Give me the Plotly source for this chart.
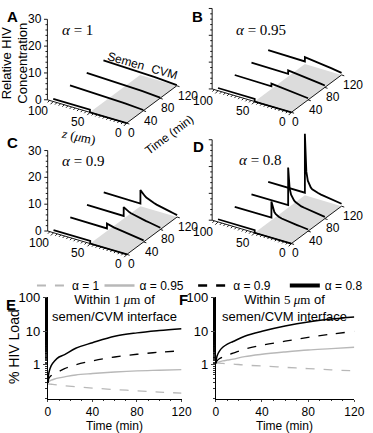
import plotly.graph_objects as go

# ---------------- data ----------------
# Panels A-D: relative HIV concentration profiles along z (um) at four times (min)
z_um = [100, 90, 80, 70, 60, 50, 50, 48, 46, 44, 42, 40, 36, 32, 28, 24, 20, 15, 10, 5, 0]
snap_times = [0, 40, 80, 120]
panel_alpha = ["1", "0.95", "0.9", "0.8"]

conc_alpha_1 = [
    [1.0, 1.0, 1.0, 1.0, 1.0, 1.0, 0, 0, 0, 0, 0, 0, 0, 0, 0, 0, 0, 0, 0, 0, 0],
    [1.4, 1.35, 1.3, 1.2, 1.1, 1.0, 1.0, 0.98, 0.96, 0.94, 0.92, 0.9, 0.85, 0.8, 0.75, 0.7, 0.65, 0.55, 0.45, 0.35, 0.25],
    [1.4, 1.35, 1.3, 1.2, 1.1, 1.0, 1.0, 0.98, 0.96, 0.94, 0.92, 0.9, 0.85, 0.8, 0.75, 0.7, 0.65, 0.55, 0.45, 0.35, 0.25],
    [1.4, 1.35, 1.3, 1.2, 1.1, 1.0, 1.0, 0.98, 0.96, 0.94, 0.92, 0.9, 0.85, 0.8, 0.75, 0.7, 0.65, 0.55, 0.45, 0.35, 0.25],
]
conc_alpha_095 = [
    [1.0, 1.0, 1.0, 1.0, 1.0, 1.0, 0, 0, 0, 0, 0, 0, 0, 0, 0, 0, 0, 0, 0, 0, 0],
    [1.2, 1.15, 1.1, 1.05, 1.0, 1.0, 2.0, 1.95, 1.9, 1.85, 1.8, 1.75, 1.65, 1.55, 1.45, 1.35, 1.25, 1.1, 0.95, 0.8, 0.6],
    [1.2, 1.15, 1.1, 1.05, 1.0, 1.0, 2.3, 2.25, 2.2, 2.15, 2.1, 2.05, 1.95, 1.85, 1.7, 1.6, 1.45, 1.3, 1.1, 0.9, 0.7],
    [1.2, 1.15, 1.1, 1.05, 1.0, 1.0, 2.6, 2.55, 2.5, 2.45, 2.4, 2.3, 2.2, 2.05, 1.9, 1.75, 1.6, 1.4, 1.2, 1.0, 0.75],
]
conc_alpha_09 = [
    [1.0, 1.0, 1.0, 1.0, 1.0, 1.0, 0, 0, 0, 0, 0, 0, 0, 0, 0, 0, 0, 0, 0, 0, 0],
    [1.1, 1.05, 1.0, 1.0, 1.0, 1.0, 2.8, 2.6, 2.45, 2.3, 2.2, 2.1, 1.95, 1.8, 1.65, 1.5, 1.4, 1.2, 1.0, 0.8, 0.6],
    [1.1, 1.05, 1.0, 1.0, 1.0, 1.0, 4.3, 3.9, 3.55, 3.25, 3.0, 2.8, 2.5, 2.25, 2.0, 1.8, 1.6, 1.4, 1.15, 0.9, 0.65],
    [1.1, 1.05, 1.0, 1.0, 1.0, 1.0, 6.0, 5.3, 4.75, 4.3, 3.9, 3.6, 3.1, 2.7, 2.35, 2.05, 1.8, 1.55, 1.3, 1.0, 0.7],
]
conc_alpha_08 = [
    [1.0, 1.0, 1.0, 1.0, 1.0, 1.0, 0, 0, 0, 0, 0, 0, 0, 0, 0, 0, 0, 0, 0, 0, 0],
    [1.0, 1.0, 1.0, 1.0, 1.0, 1.0, 7.0, 4.5, 3.4, 2.8, 2.4, 2.15, 1.8, 1.6, 1.45, 1.3, 1.2, 1.05, 0.9, 0.75, 0.6],
    [1.0, 1.0, 1.0, 1.0, 1.0, 1.0, 15.0, 7.5, 5.2, 4.0, 3.4, 2.95, 2.4, 2.0, 1.8, 1.6, 1.45, 1.25, 1.05, 0.85, 0.65],
    [1.0, 1.0, 1.0, 1.0, 1.0, 1.0, 23.0, 9.0, 5.8, 4.4, 3.6, 3.1, 2.6, 2.3, 2.05, 1.85, 1.7, 1.5, 1.3, 1.1, 0.9],
]
panel_conc = [conc_alpha_1, conc_alpha_095, conc_alpha_09, conc_alpha_08]

cvm_floor_z = [50, 0, 0, 50]
cvm_floor_t = [0, 0, 120, 120]

z_ticks = list(range(0, 106, 5))
z_label_vals = [100, 50, 0]
t_ticks = [0, 40, 80, 120]
c_ticks = list(range(0, 31, 2))
c_label_vals = [0, 10, 20, 30]

# Panels E, F: % HIV load vs time
t_min = [0, 1, 3, 6, 10, 15, 25, 40, 60, 80, 100, 120]
load1_a1 = [0.27, 0.27, 0.265, 0.26, 0.25, 0.24, 0.225, 0.205, 0.185, 0.17, 0.155, 0.145]
load1_a095 = [0.29, 0.32, 0.35, 0.38, 0.41, 0.44, 0.5, 0.55, 0.61, 0.66, 0.69, 0.72]
load1_a09 = [0.29, 0.4, 0.48, 0.56, 0.64, 0.77, 1.0, 1.3, 1.7, 2.05, 2.35, 2.6]
load1_a08 = [0.29, 0.6, 0.95, 1.3, 1.7, 2.0, 3.1, 4.5, 7.0, 8.8, 10.3, 11.7]
load5_a1 = [1.15, 1.14, 1.12, 1.1, 1.07, 1.05, 0.98, 0.92, 0.84, 0.77, 0.71, 0.66]
load5_a095 = [1.1, 1.15, 1.22, 1.3, 1.38, 1.47, 1.75, 2.05, 2.4, 2.75, 3.0, 3.3]
load5_a09 = [1.1, 1.3, 1.5, 1.7, 1.95, 2.2, 2.9, 3.8, 5.0, 6.5, 8.1, 9.7]
load5_a08 = [1.1, 1.8, 2.5, 3.3, 4.1, 4.9, 7.0, 9.8, 14.0, 18.5, 22.5, 26.0]
legend_names = ["α = 1", "α = 0.95", "α = 0.9", "α = 0.8"]

# ---------------- geometry / styling ----------------
W, H = 373, 433
FONT = "Liberation Sans, Arial, sans-serif"
SERIF = "Liberation Serif, DejaVu Serif, serif"

# oblique projection of (z, t, c) onto the overlay pixel axes
Z_AX = 108           # z position of the vertical axis
ZX, ZY = 0.76, 0.22  # px per um (toward z = 0)
TX, TY = 52 / 120, -38 / 120  # px per min
CY = -81.8 / 30      # px per concentration unit
panel_origin = [(46.0, 94.3), (216.7, 83.3), (46.3, 227.7), (216.7, 216.7)]


def proj(o, z, t, c):
    return (o[0] + (Z_AX - z) * ZX + t * TX,
            o[1] + (Z_AX - z) * ZY + t * TY + c * CY)


fig = go.Figure()
OV = dict(xaxis="x3", yaxis="y3", hoverinfo="skip", showlegend=False)
annos = []


def txt(x, y, s, size=13, fam=FONT, angle=0, bold=False, xanc="center", yanc="middle"):
    annos.append(dict(x=x / W, y=1 - y / H, xref="paper", yref="paper",
                      text=("<b>%s</b>" % s) if bold else s, showarrow=False,
                      textangle=angle, xanchor=xanc, yanchor=yanc,
                      font=dict(family=fam, size=size, color="black")))


def segs(pairs):
    xs, ys = [], []
    for (a, b) in pairs:
        xs += [a[0], b[0], None]
        ys += [a[1], b[1], None]
    return xs, ys


for k in range(4):
    o = panel_origin[k]
    # CVM floor (grey)
    fx, fy = zip(*[proj(o, z, t, 0) for z, t in zip(cvm_floor_z, cvm_floor_t)])
    fig.add_trace(go.Scatter(x=list(fx) + [fx[0]], y=list(fy) + [fy[0]], fill="toself",
                             fillcolor="#dcdcdc", mode="lines", line=dict(width=0), **OV))
    # axis lines
    axis_pairs = [(proj(o, Z_AX, 0, 0), proj(o, Z_AX, 0, 30)),
                  (proj(o, Z_AX, 0, 0), proj(o, 0, 0, 0)),
                  (proj(o, 0, 0, 0), proj(o, 0, 120, 0))]
    # ticks
    for c in c_ticks:
        p = proj(o, Z_AX, 0, c)
        ln = 3.5 if c in c_label_vals else 2.0
        axis_pairs.append((p, (p[0] - ln, p[1])))
    for z in z_ticks:
        p = proj(o, z, 0, 0)
        ln = 1.4 if z in z_label_vals else 1.0
        axis_pairs.append((p, (p[0] - 2.0 * ln, p[1] + 2.0 * ln)))
    for t in t_ticks:
        p = proj(o, 0, t, 0)
        axis_pairs.append((p, (p[0] + 2.8, p[1] + 0.9)))
    ax_x, ax_y = segs(axis_pairs)
    fig.add_trace(go.Scatter(x=ax_x, y=ax_y, mode="lines",
                             line=dict(color="black", width=0.9), **OV))
    # concentration profiles
    for j, t in enumerate(snap_times):
        px, py = zip(*[proj(o, z, t, c) for z, c in zip(z_um, panel_conc[k][j])])
        fig.add_trace(go.Scatter(x=list(px), y=list(py), mode="lines",
                                 line=dict(color="black", width=1.8), **OV))
    # tick labels
    if k in (0, 2):
        for c in c_label_vals:
            p = proj(o, Z_AX, 0, c)
            txt(p[0] - 4, p[1], str(c), size=12, xanc="right")
    for z in z_label_vals:
        p = proj(o, z, 0, 0)
        txt(p[0] - 3, p[1] + 10, str(z), size=12, xanc="right")
    for t in t_ticks:
        p = proj(o, 0, t, 0)
        txt(p[0] - 1, p[1] + 10, str(t), size=12, xanc="left")

# ---------------- panels E and F ----------------
styles = [
    dict(color="#b8b8b8", width=1.3, dash="dash"),
    dict(color="#b8b8b8", width=1.4),
    dict(color="black", width=1.3, dash="dash"),
    dict(color="black", width=1.5),
]
legend_styles = [
    dict(color="#b8b8b8", width=2, dash="dash"),
    dict(color="#b8b8b8", width=2.5),
    dict(color="black", width=2.5, dash="dash"),
    dict(color="black", width=4),
]
e_series = [load1_a1, load1_a095, load1_a09, load1_a08]
f_series = [load5_a1, load5_a095, load5_a09, load5_a08]
for i in range(4):
    fig.add_trace(go.Scatter(x=t_min, y=e_series[i], mode="lines", line=styles[i],
                             line_shape="spline", showlegend=False, hoverinfo="skip",
                             xaxis="x", yaxis="y"))
    fig.add_trace(go.Scatter(x=t_min, y=f_series[i], mode="lines", line=styles[i],
                             line_shape="spline", showlegend=False, hoverinfo="skip",
                             xaxis="x2", yaxis="y2"))
legend_ids = ["legend", "legend2", "legend3", "legend4"]
for i in range(4):
    fig.add_trace(go.Scatter(x=[None], y=[None], mode="lines", line=legend_styles[i],
                             name=legend_names[i], legend=legend_ids[i], xaxis="x", yaxis="y"))

legend_x_px = [30, 100, 197, 292]
legends = {}
for i in range(4):
    legends[legend_ids[i]] = dict(x=legend_x_px[i] / W, y=1 - 283 / H, xanchor="left",
                                  yanchor="middle", orientation="h", bgcolor="rgba(0,0,0,0)",
                                  font=dict(family=FONT, size=12, color="black"),
                                  borderwidth=0)

x_axis_style = dict(range=[0, 120], tickvals=[0, 40, 80, 120], ticks="outside", ticklen=2,
                    showline=True, linecolor="black", linewidth=1, showgrid=False, zeroline=False,
                    minor=dict(dtick=10, ticks="outside", ticklen=1.5, tickcolor="black", tickwidth=0.8),
                    tickfont=dict(family=FONT, size=12, color="black"), fixedrange=True)
y_axis_style = dict(type="log", range=[-1, 2], tickvals=[1, 10, 100], ticktext=["1", "10", "100"],
                    ticks="outside", ticklen=4, showline=True, linecolor="black", linewidth=1,
                    showgrid=False, zeroline=False,
                    minor=dict(ticks="outside", ticklen=2, tickcolor="black", tickwidth=0.8,
                               showgrid=False),
                    tickfont=dict(family=FONT, size=13, color="black"), fixedrange=True)

# ---------------- text ----------------
for lab, (x, y) in zip("ABCDEF", [(10, 10), (202, 10), (10, 138), (203, 142), (8, 302), (187, 297)]):
    txt(x, y, lab, size=15, bold=True)
for i, (x, y) in enumerate([(77, 23), (267, 23), (83, 157), (267, 156)]):
    txt(x, y, "<i>α</i> = " + panel_alpha[i], size=15, fam=SERIF)
txt(12, 57, "Relative HIV<br>Concentration", size=13, angle=-90)
txt(78, 132, "<i>z</i> (<i>μ</i>m)", size=13, fam=SERIF, angle=12)
txt(172, 130, "Time (min)", size=12, angle=-37)
txt(127, 55, "Semen", size=12, angle=16)
txt(167, 66, "CVM", size=12, angle=16)
txt(12, 345, "% HIV Load", size=14, angle=-90)
txt(116, 426, "Time (min)", size=12)
txt(292, 426, "Time (min)", size=12)
mu = "<span style='font-family:Liberation Serif, serif'>%s <i>μ</i>m</span>"
txt(116, 306, "Within " + (mu % "1") + " of<br>semen/CVM interface", size=13)
txt(292, 306, "Within " + (mu % "5") + " of<br>semen/CVM interface", size=13)

fig.update_layout(
    width=W, height=H, margin=dict(l=0, r=0, t=0, b=0),
    paper_bgcolor="white", plot_bgcolor="rgba(0,0,0,0)",
    font=dict(family=FONT, size=13, color="black"),
    xaxis=dict(domain=[46.5 / W, 185 / W], anchor="y", **x_axis_style),
    yaxis=dict(domain=[1 - 398 / H, 1 - 295 / H], anchor="x", **y_axis_style),
    xaxis2=dict(domain=[220.5 / W, 364 / W], anchor="y2", **x_axis_style),
    yaxis2=dict(domain=[1 - 398 / H, 1 - 295 / H], anchor="x2", **y_axis_style),
    xaxis3=dict(domain=[0, 1], range=[0, W], visible=False, fixedrange=True, anchor="y3"),
    yaxis3=dict(domain=[0, 1], range=[H, 0], visible=False, fixedrange=True, anchor="x3"),
    annotations=annos,
    **legends,
)
fig.write_html("out.html", config=dict(displayModeBar=False, staticPlot=True),
               post_script="document.body.style.margin='0px';document.body.style.padding='0px';")
